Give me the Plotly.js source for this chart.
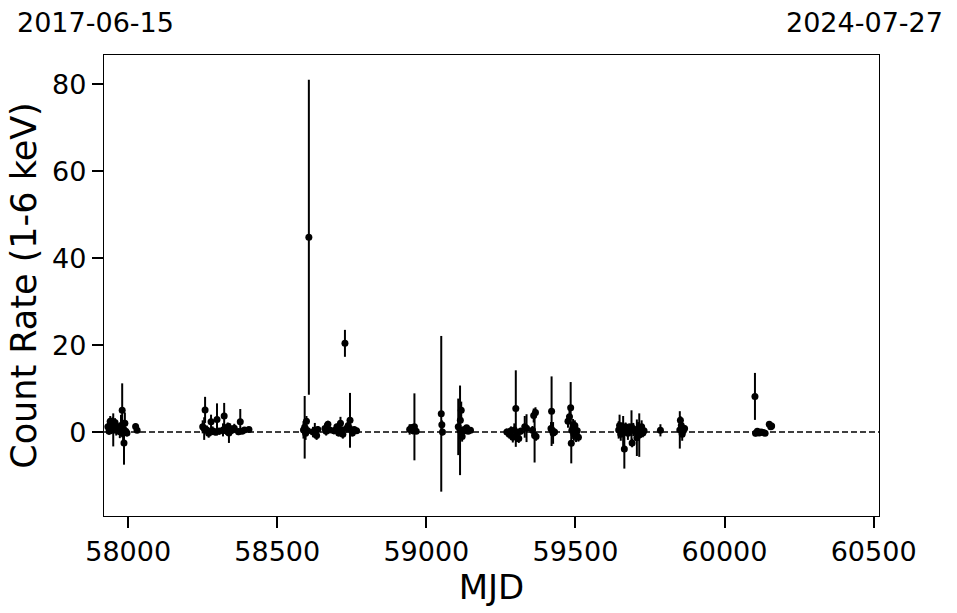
<!DOCTYPE html>
<html>
<head>
<meta charset="utf-8">
<script src="https://cdn.plot.ly/plotly-3.0.1.min.js"></script>
<style>
  html, body { margin: 0; padding: 0; background: #ffffff; }
  #chart { width: 957px; height: 613px; }
</style>
</head>
<body>
<div id="chart"></div>
<script>
// Observation epochs (MJD)
const mjd = [
  57932, 57936, 57940, 57944, 57948, 57950, 57956, 57960, 57966, 57972, 57976, 57980, 57983, 57986, 57989, 57992, 57996, 58025, 58030,
  58250, 58255, 58258, 58264, 58270, 58278, 58283, 58292, 58298, 58305, 58318, 58322, 58328, 58334, 58338, 58342, 58348, 58356, 58370, 58376, 58382, 58390, 58405,
  58588, 58592, 58595, 58598, 58602, 58606, 58620, 58626, 58632, 58636, 58660, 58664, 58670, 58676, 58690, 58700, 58706, 58712, 58716, 58720, 58727, 58732, 58738, 58744, 58748, 58752, 58758, 58766,
  58944, 58950, 58955, 58960, 58966,
  59050, 59052, 59054,
  59107, 59113, 59117, 59114, 59120, 59124, 59128, 59135, 59140, 59148,
  59270, 59278, 59284, 59290, 59295, 59300, 59304, 59310, 59316, 59330, 59336, 59356, 59360, 59363, 59366, 59368,
  59418, 59420, 59422, 59425, 59430,
  59475, 59480, 59484, 59486, 59488, 59492, 59495, 59498, 59502, 59506, 59510,
  59645, 59648, 59652, 59656, 59660, 59664, 59668, 59672, 59676, 59680, 59684, 59688, 59690, 59694, 59700, 59706, 59710, 59714, 59718, 59722, 59726, 59730,
  59785,
  59850, 59852, 59855, 59858, 59862, 59866,
  60102, 60104, 60110, 60116, 60122, 60130, 60136, 60150, 60155, 60158
];
// Count rate (1-6 keV)
const rate = [
  1.2, 0.2, 2.5, 0.6, 1.8, 0.5, 2.2, 0.4, 1.0, 0.1, 1.5, 5.0, 0.3, -2.5, 2.0, 0.2, -0.2, 1.3, 0.4,
  1.2, 0.8, 5.1, 0.5, -0.3, 2.4, 0.3, 0.0, 2.9, 0.2, 0.5, 3.7, 0.3, 1.2, -0.2, 0.8, 0.4, 0.9, 0.1, 2.4, 0.2, 0.5, 0.6,
  0.5, 1.1, -0.3, 2.5, 0.3, 44.8, 0.0, 0.4, -0.8, 0.6, 0.8, 0.2, 1.8, 0.5, 0.3, 1.2, -0.2, 2.0, 0.5, -0.5, 20.4, 0.8, 1.5, 2.7, 0.5, -0.2, 0.6, 0.3,
  0.6, 1.0, 0.3, 1.2, 0.2,
  4.2, 1.7, 0.0,
  1.2, 0.4, 5.0, 2.7, -1.0, 0.5, 0.3, 1.0, 0.2, 0.4,
  0.0, -0.5, 0.3, -1.2, 0.5, 5.4, -0.8, -1.5, 0.2, 1.2, 0.9, 0.4, 3.8, -0.8, 4.5, -1.0,
  0.8, 4.8, 0.4, -0.2, 0.0,
  2.5, 3.5, 5.6, -2.6, 0.4, 1.0, -0.5, 1.5, -0.8, 0.3, -1.2,
  0.5, 1.5, -0.5, 1.0, 0.2, -3.9, 1.2, 0.5, -0.3, 1.0, 0.4, 1.2, -2.5, 0.6, 0.2, -1.3, 0.8, -0.7, 0.5, 1.2, -0.2, 0.3,
  0.4,
  0.5, 2.7, 1.5, -0.5, 0.3, 0.8,
  8.2, -0.3, 0.2, -0.2, 0.0, -0.1, -0.3, 1.8, 1.2, 1.4
];
// 1-sigma uncertainties
const rateErr = [
  1.5, 0.8, 1.2, 1.0, 1.6, 3.8, 1.0, 1.2, 0.8, 1.5, 2.5, 6.2, 2.5, 5.0, 2.5, 1.0, 0.8, 0.6, 0.5,
  1.5, 2.6, 3.0, 1.0, 1.0, 1.6, 1.0, 0.8, 3.7, 0.8, 1.5, 3.0, 0.9, 1.0, 2.3, 1.2, 0.8, 1.0, 0.8, 2.9, 0.6, 0.5, 0.4,
  2.0, 7.2, 1.5, 1.2, 1.0, 36.2, 1.2, 1.7, 1.0, 0.8, 1.2, 1.0, 0.8, 0.6, 0.8, 0.7, 0.8, 1.5, 0.8, 1.0, 3.1, 1.0, 1.2, 6.3, 1.0, 0.8, 0.6, 0.5,
  1.2, 0.8, 0.8, 7.7, 0.6,
  17.9, 1.0, 0.8,
  6.5, 10.3, 2.0, 1.5, 1.2, 0.8, 0.6, 0.5, 0.5, 0.4,
  0.8, 1.0, 1.0, 1.2, 1.5, 8.8, 1.5, 1.0, 0.8, 2.5, 3.2, 1.0, 1.6, 6.2, 1.2, 1.0,
  1.5, 8.0, 1.5, 2.5, 0.8,
  1.5, 1.5, 5.9, 4.6, 2.0, 2.0, 1.5, 1.2, 1.5, 1.0, 1.0,
  2.0, 2.5, 1.5, 1.2, 3.5, 4.5, 1.0, 1.2, 1.5, 1.0, 1.2, 3.8, 1.0, 1.5, 1.0, 4.2, 1.5, 5.0, 1.0, 1.5, 1.0, 0.8,
  1.4,
  4.3, 1.0, 1.5, 1.5, 1.0, 0.8,
  5.4, 0.7, 0.5, 0.5, 0.5, 0.4, 0.5, 0.6, 0.5, 0.4
];
const xRange = [57919, 60518];
const yRange = [-19.3, 86.7];
const xTicks = [58000, 58500, 59000, 59500, 60000, 60500];
const yTicks = [0, 20, 40, 60, 80];
const startDate = "2017-06-15";
const endDate = "2024-07-27";

const FONT = "DejaVu Sans, Liberation Sans, sans-serif";

const trace = {
  type: "scatter",
  mode: "markers",
  x: mjd,
  y: rate,
  error_y: { type: "data", array: rateErr, visible: true, color: "#000000", thickness: 2, width: 0 },
  marker: { color: "#000000", size: 7 },
  hoverinfo: "x+y",
  showlegend: false
};

const layout = {
  width: 957,
  height: 613,
  margin: { l: 104, r: 78, t: 55, b: 97, pad: 0 },
  paper_bgcolor: "#ffffff",
  plot_bgcolor: "#ffffff",
  font: { family: FONT, color: "#000000", size: 27 },
  xaxis: {
    range: xRange,
    tickvals: xTicks,
    ticktext: xTicks.map(String),
    showgrid: false,
    zeroline: false,
    showline: true,
    mirror: true,
    linecolor: "#000000",
    linewidth: 1.2,
    ticks: "outside",
    ticklen: 11,
    tickwidth: 2,
    tickcolor: "#000000",
    tickfont: { family: FONT, size: 27, color: "#000000" },
    title: { text: "MJD", font: { family: FONT, size: 34, color: "#000000" }, standoff: 7 }
  },
  yaxis: {
    range: yRange,
    tickvals: yTicks,
    ticktext: yTicks.map(String),
    showgrid: false,
    zeroline: false,
    showline: true,
    mirror: true,
    linecolor: "#000000",
    linewidth: 1.2,
    ticks: "outside",
    ticklen: 11,
    tickwidth: 2,
    tickcolor: "#000000",
    tickfont: { family: FONT, size: 27, color: "#000000" },
    title: { text: "Count Rate (1-6 keV)", font: { family: FONT, size: 35, color: "#000000" }, standoff: 4 }
  },
  shapes: [{
    type: "line", xref: "paper", x0: 0, x1: 1, yref: "y", y0: 0, y1: 0,
    line: { color: "#000000", width: 1.5, dash: "6px,3px" }, layer: "below"
  }],
  annotations: [
    { text: startDate, xref: "paper", yref: "paper", x: -0.1148, y: 1.07, xanchor: "left", yanchor: "middle", showarrow: false, font: { family: FONT, size: 27, color: "#000000" } },
    { text: endDate, xref: "paper", yref: "paper", x: 1.0852, y: 1.07, xanchor: "right", yanchor: "middle", showarrow: false, font: { family: FONT, size: 27, color: "#000000" } }
  ]
};

Plotly.newPlot("chart", [trace], layout, { staticPlot: true, displayModeBar: false });
</script>
</body>
</html>
